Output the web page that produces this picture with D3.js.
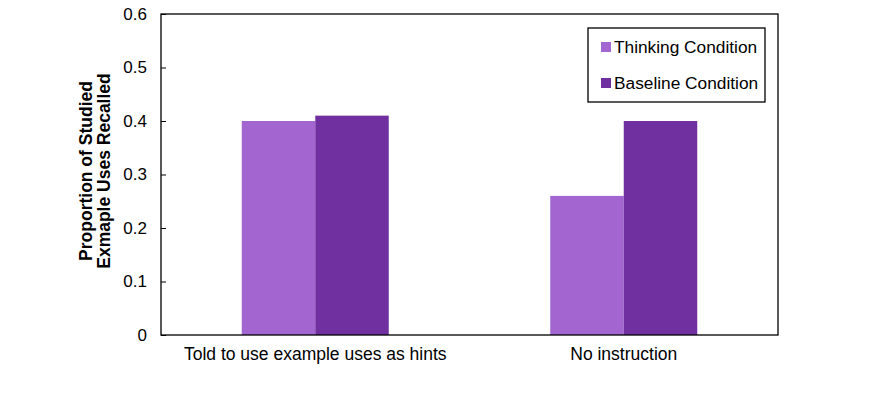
<!DOCTYPE html>
<html><head><meta charset="utf-8">
<script src="https://cdn.jsdelivr.net/npm/d3@7"></script>
<style>body{margin:0;background:#fff;} text{font-family:"Liberation Sans",Arial,sans-serif;}</style>
</head><body><svg id="c" width="881" height="393"></svg>
<script>
const categories = ["Told to use example uses as hints", "No instruction"];
const seriesNames = ["Thinking Condition", "Baseline Condition"];
const thinking = [0.40, 0.26];
const baseline = [0.41, 0.40];
const yTicks = [0, 0.1, 0.2, 0.3, 0.4, 0.5, 0.6];
const colors = ["#A366D1", "#7030A0"];

const svg = d3.select("#c");
const L = 161, R = 778, T = 14, B = 335;
const x0 = d3.scaleBand().domain(categories).range([L, R]).paddingInner(0.5235).paddingOuter(0.26175);
const x1 = d3.scaleBand().domain(seriesNames).range([0, x0.bandwidth()]);
const y = d3.scaleLinear().domain([0, 0.6]).range([B, T]);
const series = [thinking, baseline];

categories.forEach((c, i) => {
  series.forEach((s, j) => {
    svg.append("rect").attr("x", x0(c) + x1(seriesNames[j])).attr("y", y(s[i]))
      .attr("width", x1.bandwidth()).attr("height", y(0) - y(s[i])).attr("fill", colors[j]);
  });
});

svg.append("rect").attr("x", L).attr("y", T).attr("width", R - L).attr("height", B - T)
  .attr("fill", "none").attr("stroke", "#000").attr("stroke-width", 1.3);

const yAxis = svg.append("g").attr("transform", `translate(${L},0)`)
  .call(d3.axisLeft(y).tickValues(yTicks).tickSize(-5).tickPadding(14).tickFormat(d => d === 0 ? "0" : d3.format(".1f")(d)));
yAxis.select(".domain").remove();
yAxis.selectAll("text").attr("font-size", 17).attr("fill", "#000").style("font-family", "Liberation Sans, Arial, sans-serif");
yAxis.selectAll("line").attr("stroke", "#000");

const xAxis = svg.append("g").attr("transform", `translate(0,${B})`)
  .call(d3.axisBottom(x0).tickSize(0).tickPadding(13));
xAxis.select(".domain").remove();
xAxis.selectAll("text").attr("font-size", 17.5).attr("fill", "#000").style("font-family", "Liberation Sans, Arial, sans-serif");

const yt = svg.append("text").attr("transform", "translate(94,171) rotate(-90)")
  .attr("text-anchor", "middle").attr("font-size", 17.5).attr("font-weight", "bold");
yt.append("tspan").attr("x", 0).attr("dy", "-0.1em").text("Proportion of Studied");
yt.append("tspan").attr("x", 0).attr("dy", "1.0em").text("Exmaple Uses Recalled");

const lg = svg.append("g");
lg.append("rect").attr("x", 588).attr("y", 28).attr("width", 177).attr("height", 74)
  .attr("fill", "#fff").attr("stroke", "#000").attr("stroke-width", 1.3);
seriesNames.forEach((n, j) => {
  const cy = 47 + j * 36;
  lg.append("rect").attr("x", 601).attr("y", cy - 5).attr("width", 10).attr("height", 10).attr("fill", colors[j]);
  lg.append("text").attr("x", 614).attr("y", cy + 6).attr("font-size", 17.3).text(n);
});
</script></body></html>
